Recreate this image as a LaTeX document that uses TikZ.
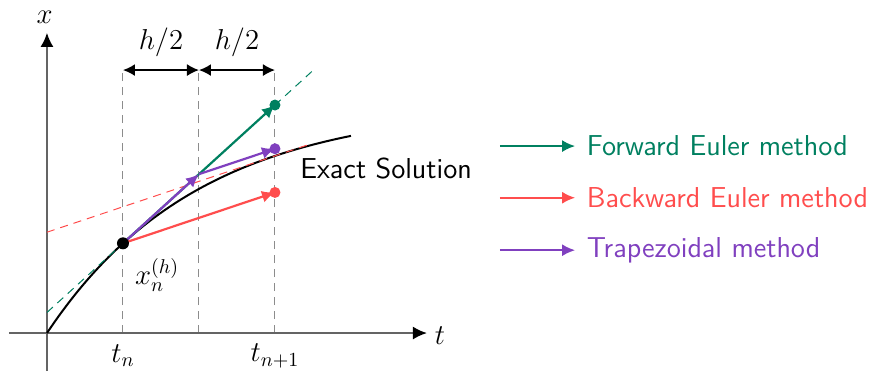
\documentclass[tikz,border=0pt]{standalone}
\usetikzlibrary{arrows.meta,calc}
\definecolor{greenc}{RGB}{0,128,96}
\definecolor{redc}{RGB}{255,77,77}
\definecolor{purplec}{RGB}{128,64,191}
\definecolor{axisc}{RGB}{100,100,100}
\definecolor{guidec}{RGB}{140,140,140}
\begin{document}
\begin{tikzpicture}[x=38pt,y=38pt,font=\Large,
  axisline/.style={draw=axisc,line width=1pt,-{Latex[length=7pt,width=6.5pt,color=black]}},
  guide/.style={draw=guidec,line width=0.5pt,dash pattern=on 4pt off 3pt},
  tangent/.style={line width=0.5pt,dash pattern=on 4pt off 3pt},
  meth/.style={line width=1.1pt,-{Latex[length=6.5pt,width=6pt]}},
  dim/.style={line width=0.8pt,{Latex[length=6pt,width=6pt]}-{Latex[length=6pt,width=6pt]}},
  dot/.style={circle,inner sep=0pt,minimum size=5.5pt},
  legtext/.style={anchor=west,font=\Large\sffamily}]
\useasboundingbox (-0.618,-0.566) rectangle (10.895,4.382);
% axes
\coordinate (o) at (0,0);
\coordinate (tax0) at (-0.5,0);
\coordinate (tax1) at (5,0);
\coordinate (xax0) at (0,-0.5);
\coordinate (xax1) at (0,3.95);
% key points
\coordinate (xn) at (1,1.1804);
\coordinate (mid) at (2,2.0902);
\coordinate (fe) at (3,3.0);
\coordinate (be) at (3,1.8498);
\coordinate (tr) at (3,2.4249);
% guides
\coordinate (g1a) at (1,0); \coordinate (g1b) at (1,3.46);
\coordinate (g2a) at (2,0); \coordinate (g2b) at (2,3.46);
\coordinate (g3a) at (3,0); \coordinate (g3b) at (3,3.46);
\draw[guide] (g1a) -- (g1b);
\draw[guide] (g2a) -- (g2b);
\draw[guide] (g3a) -- (g3b);
\draw[dim] (g1b) -- (g2b);
\draw[dim] (g2b) -- (g3b);
\node (h1) at (1.5,3.83) {$h/2$};
\node (h2) at (2.5,3.83) {$h/2$};
% axes
\draw[axisline] (tax0) -- (tax1);
\draw[axisline] (xax0) -- (xax1);
\node[inner sep=0pt] (xl) at (-0.03,4.16) {$x$};
\node (tl) at (5.17,-0.03) {$t$};
\node (tn) at (1,-0.3) {$t_n$};
\node (tn1) at (3,-0.3) {$t_{n+1}$};
% exact solution
\draw[line width=1pt,domain=0:4,samples=80] plot (\x,{3*(1-exp(-\x/2))});
\node[anchor=west,font=\Large\sffamily] (ex) at (3.24,2.17) {Exact Solution};
% tangents
\coordinate (gt0) at (0,0.2706);
\coordinate (gt1) at (3.49,3.4458);
\draw[tangent,greenc] (gt0) -- (gt1);
\coordinate (rt0) at (0,1.3265);
\coordinate (rt1) at (3.46,2.4846);
\draw[tangent,redc] (rt0) -- (rt1);
% methods
\draw[meth,greenc] (xn) -- (fe);
\draw[meth,redc] (xn) -- (be);
\draw[meth,purplec] (xn) -- (mid);
\draw[meth,purplec] (mid) -- (tr);
\node[dot,fill=greenc] (dfe) at (fe) {};
\node[dot,fill=redc] (dbe) at (be) {};
\node[dot,fill=purplec] (dtr) at (tr) {};
\node[dot,fill=black,minimum size=6pt] (dxn) at (xn) {};
\node[inner sep=1pt] (xnl) at (1.45,0.76) {$x_n^{(h)}$};
% legend
\coordinate (l1s) at (5.96,2.46); \coordinate (l1e) at (6.95,2.46);
\coordinate (l2s) at (5.96,1.78); \coordinate (l2e) at (6.95,1.78);
\coordinate (l3s) at (5.96,1.09); \coordinate (l3e) at (6.95,1.09);
\draw[meth,greenc] (l1s) -- (l1e);
\draw[meth,redc] (l2s) -- (l2e);
\draw[meth,purplec] (l3s) -- (l3e);
\node[legtext,text=greenc] (lt1) at (7.01,2.46) {Forward Euler method};
\node[legtext,text=redc] (lt2) at (7.01,1.78) {Backward Euler method};
\node[legtext,text=purplec] (lt3) at (7.01,1.09) {Trapezoidal method};
\end{tikzpicture}
\end{document}
